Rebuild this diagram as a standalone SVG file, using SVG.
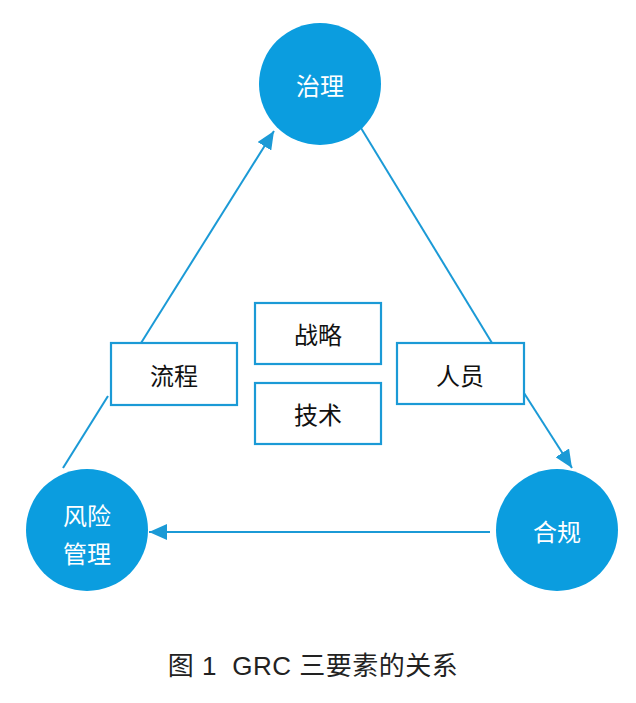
<svg xmlns="http://www.w3.org/2000/svg" width="636" height="703" viewBox="0 0 636 703">
<style>
.c{fill:#0B9DDF}
.b{fill:#fff;stroke:#1B9AD6;stroke-width:2.2}
.l{stroke:#1B9AD6;stroke-width:2;fill:none}
.t{font-family:"Noto Sans CJK SC","Liberation Sans",sans-serif;font-size:24px;text-anchor:middle;dominant-baseline:central}
.w{fill:#fff}
.k{fill:#111}
.cap{font-family:"Liberation Sans","Noto Sans CJK SC",sans-serif;font-size:26px;letter-spacing:0.5px;fill:#222;text-anchor:middle;white-space:pre}
</style>
<defs>
<marker id="a" markerUnits="userSpaceOnUse" markerWidth="20" markerHeight="16" refX="18" refY="8" orient="auto">
<path d="M0,0 L18,8 L0,16 Z" fill="#1B9AD6"/>
</marker>
</defs>
<rect width="636" height="703" fill="#fff"/>
<g id="connectors">
<line class="l" x1="63" y1="468" x2="108" y2="396"/>
<line class="l" x1="141" y1="343" x2="274" y2="131" marker-end="url(#a)"/>
<line class="l" x1="361" y1="128" x2="492" y2="343"/>
<line class="l" x1="524" y1="393" x2="572" y2="468" marker-end="url(#a)"/>
<line class="l" x1="490" y1="532" x2="149" y2="532" marker-end="url(#a)"/>
</g>
<g id="governance"><circle class="c" cx="320" cy="84" r="61"/><text class="t w" x="320" y="84">治理</text></g>
<g id="risk"><circle class="c" cx="87" cy="530" r="61"/><text class="t w" x="87" y="514">风险</text><text class="t w" x="87" y="552">管理</text></g>
<g id="compliance"><circle class="c" cx="557" cy="530" r="61"/><text class="t w" x="557" y="530">合规</text></g>
<g id="process"><rect class="b" x="111" y="343" width="126" height="62"/><text class="t k" x="174" y="374">流程</text></g>
<g id="strategy"><rect class="b" x="255" y="303" width="126" height="61"/><text class="t k" x="318" y="333">战略</text></g>
<g id="tech"><rect class="b" x="255" y="383" width="126" height="61"/><text class="t k" x="318" y="413">技术</text></g>
<g id="people"><rect class="b" x="397" y="343" width="127" height="61"/><text class="t k" x="460" y="374">人员</text></g>
<text class="cap" x="313" y="675" xml:space="preserve">图 1  GRC 三要素的关系</text>
</svg>
